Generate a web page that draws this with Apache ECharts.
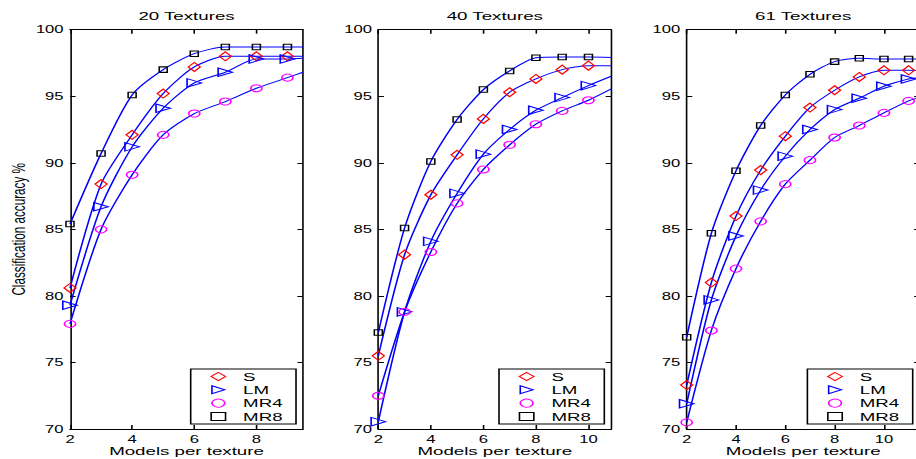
<!DOCTYPE html>
<html><head><meta charset="utf-8">
<script src="https://cdn.jsdelivr.net/npm/echarts@6/dist/echarts.min.js"></script>
<style>
html,body{margin:0;padding:0;background:#fff;overflow:hidden;}
#wrap{width:916px;height:459px;overflow:hidden;position:relative;background:#fff;}
#chart{width:573px;height:459px;transform:scaleX(1.598604);transform-origin:0 0;}
</style></head><body><div id="wrap"><div id="chart"></div></div>
<script>
// ---- data ----
const panelTitles = ['20 Textures', '40 Textures', '61 Textures'];
const seriesNames = ['S', 'LM', 'MR4', 'MR8'];
const yTicks = [70, 75, 80, 85, 90, 95, 100];
const xTicks20 = [2, 4, 6, 8];
const xTicks40 = [2, 4, 6, 8, 10];
const xTicks61 = [2, 4, 6, 8, 10];
const xMax = [9.5, 10.87, 11.45];

const models20 = [2, 3, 4, 5, 6, 7, 8, 9];
const s20    = [80.6, 88.4, 92.1, 95.2, 97.2, 98.0, 98.0, 98.0];
const lm20   = [79.3, 86.7, 91.2, 94.1, 96.0, 96.8, 97.8, 97.8];
const mr4_20 = [77.9, 85.0, 89.1, 92.1, 93.7, 94.6, 95.6, 96.4];
const mr8_20 = [85.4, 90.7, 95.1, 97.0, 98.2, 98.7, 98.7, 98.7];
const edge20 = [98.0, 97.85, 96.8, 98.7];   // S, LM, MR4, MR8 where lines leave the axes

const models40 = [2, 3, 4, 5, 6, 7, 8, 9, 10];
const s40    = [75.5, 83.1, 87.6, 90.6, 93.3, 95.3, 96.3, 97.0, 97.3];
const lm40   = [70.55, 78.8, 84.1, 87.7, 90.65, 92.5, 93.95, 94.9, 95.8];
const mr4_40 = [72.5, 78.8, 83.3, 86.95, 89.5, 91.35, 92.9, 93.9, 94.7];
const mr8_40 = [77.25, 85.1, 90.1, 93.25, 95.5, 96.9, 97.9, 97.95, 97.95];
const edge40 = [97.3, 96.5, 95.55, 97.92];

const models61 = [2, 3, 4, 5, 6, 7, 8, 9, 10, 11];
const s61    = [73.3, 81.0, 86.0, 89.45, 92.0, 94.15, 95.45, 96.45, 96.95, 96.95];
const lm61   = [71.9, 79.7, 84.5, 87.95, 90.5, 92.5, 94.0, 94.85, 95.75, 96.3];
const mr4_61 = [70.5, 77.4, 82.05, 85.6, 88.4, 90.2, 91.9, 92.8, 93.75, 94.65];
const mr8_61 = [76.9, 84.7, 89.4, 92.8, 95.1, 96.65, 97.6, 97.85, 97.8, 97.8];
const edge61 = [96.92, 96.4, 94.9, 97.8];

// ---- assembly ----
const FONT = 'Liberation Sans';
const panels = [
  {x: models20, ys: [s20, lm20, mr4_20, mr8_20], edge: edge20, ticks: xTicks20},
  {x: models40, ys: [s40, lm40, mr4_40, mr8_40], edge: edge40, ticks: xTicks40},
  {x: models61, ys: [s61, lm61, mr4_61, mr8_61], edge: edge61, ticks: xTicks61}
];
const markers = {
  S:   {symbol: 'diamond', size: [7.5, 9], color: '#ff0000'},
  LM:  {symbol: 'path://M0,0L10,5L0,10Z', size: [9, 8.5], color: '#0000ff'},
  MR4: {symbol: 'circle', size: [7, 7], color: '#ff00ff'},
  MR8: {symbol: 'rect', size: [5, 5.5], color: '#000000'}
};
const gridLeft = [43.79, 236.65, 429.56];
const gridW = 145.75, gridTop = 29.7, gridH = 399.3;

const grid = [], xAxis = [], yAxis = [], series = [], title = [], legend = [];
const axisLine = {show: true, onZero: false, lineStyle: {color: '#000', width: 1}};

panels.forEach((P, p) => {
  grid.push({left: gridLeft[p], top: gridTop, width: gridW, height: gridH,
             containLabel: false, outerBoundsMode: 'none'});
  const xBase = {
    type: 'value', gridIndex: p, min: 2, max: xMax[p],
    axisLine: axisLine, splitLine: {show: false}
  };
  xAxis.push(Object.assign({}, xBase, {
    position: 'bottom',
    axisTick: {show: true, inside: true, length: 4, lineStyle: {color: '#000'}, customValues: P.ticks},
    axisLabel: {show: true, customValues: P.ticks, fontSize: 10.4, color: '#000', margin: 5, fontFamily: FONT},
    name: 'Models per texture', nameLocation: 'middle', nameGap: 15, nameMoveOverlap: false,
    nameTextStyle: {fontSize: 11.7, lineHeight: 13, color: '#000', fontFamily: FONT}
  }));
  xAxis.push(Object.assign({}, xBase, {
    position: 'top',
    axisTick: {show: true, inside: true, length: 4, lineStyle: {color: '#000'}, customValues: P.ticks},
    axisLabel: {show: false}
  }));
  const yBase = {
    type: 'value', gridIndex: p, min: 70, max: 100, interval: 5,
    axisLine: axisLine, splitLine: {show: false}
  };
  const yLeft = Object.assign({}, yBase, {
    position: 'left',
    axisTick: {show: true, inside: true, length: 3.5, lineStyle: {color: '#000'}, customValues: yTicks},
    axisLabel: {show: true, customValues: yTicks, fontSize: 10.4, color: '#000', margin: 4, fontFamily: FONT}
  });
  if (p === 0) {
    Object.assign(yLeft, {
      name: 'Classification accuracy %', nameLocation: 'middle', nameGap: 26, nameMoveOverlap: false,
      nameTextStyle: {fontSize: 11.7, color: '#000', fontFamily: FONT}
    });
  }
  yAxis.push(yLeft);
  yAxis.push(Object.assign({}, yBase, {
    position: 'right',
    axisTick: {show: true, inside: true, length: 3.5, lineStyle: {color: '#000'}, customValues: yTicks},
    axisLabel: {show: false}
  }));

  title.push({
    text: panelTitles[p], left: gridLeft[p] + gridW / 2, top: 10, textAlign: 'center', padding: 0,
    textStyle: {fontSize: 11.7, fontWeight: 'normal', color: '#000', fontFamily: FONT}
  });

  seriesNames.forEach((name, k) => {
    const m = markers[name];
    const data = P.x.map((x, i) => [x, P.ys[k][i]]);
    data.push({value: [xMax[p], P.edge[k]], symbol: 'none'});
    series.push({
      type: 'line', name: name, xAxisIndex: p * 2, yAxisIndex: p * 2,
      data: data, symbol: m.symbol, symbolSize: m.size, showSymbol: true, showAllSymbol: true,
      smooth: 0.25,
      lineStyle: {color: '#0000ff', width: 1},
      itemStyle: {color: 'rgba(0,0,0,0)', borderColor: m.color, borderWidth: 1},
      emphasis: {disabled: true}, silent: true, z: 3
    });
  });

  legend.push({
    left: gridLeft[p] + 75.5, top: 369, orient: 'vertical',
    padding: [1, 8.4, 1, 12.3], itemWidth: 9, itemHeight: 8, itemGap: 0.3,
    borderColor: '#000', borderWidth: 1, backgroundColor: '#fff', selectedMode: false,
    textStyle: {fontSize: 11.7, lineHeight: 13, color: '#000', fontFamily: FONT, padding: [0, 0, 0, 6]},
    data: seriesNames.map(n => ({
      name: n, icon: markers[n].symbol,
      itemStyle: {color: 'rgba(0,0,0,0)', borderColor: markers[n].color, borderWidth: 1}
    }))
  });
});

const chart = echarts.init(document.getElementById('chart'), null, {renderer: 'svg'});
chart.setOption({
  animation: false, backgroundColor: '#fff',
  grid, xAxis, yAxis, series, title, legend
});
</script></body></html>
